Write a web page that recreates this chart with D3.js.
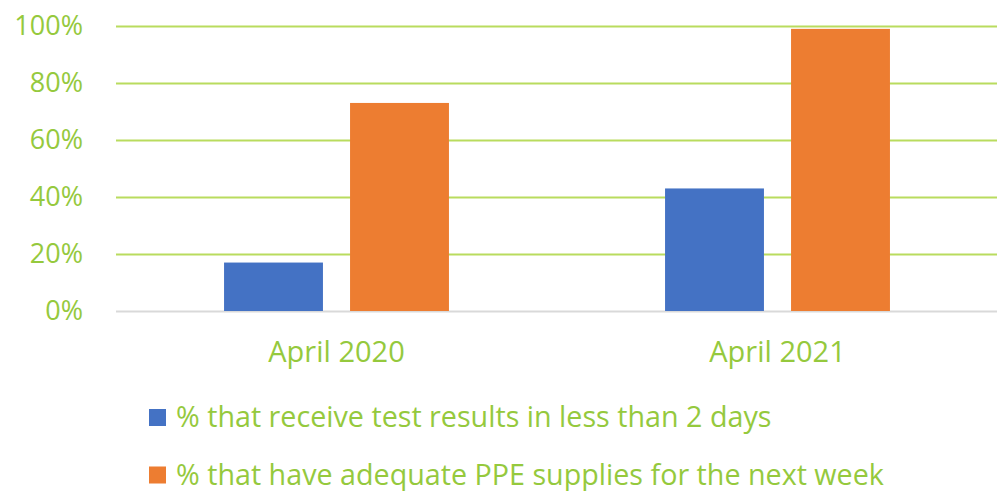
<!DOCTYPE html>
<html>
<head>
<meta charset="utf-8">
<script src="https://cdn.jsdelivr.net/npm/d3@7"></script>
<style>
  body { margin: 0; background: #fff; }
  svg text { font-family: "Open Sans", sans-serif; }
</style>
</head>
<body>
<div id="mainDiv"></div>
<script>
'use strict';

var categories = ['April 2020', 'April 2021'];
var seriesNames = ['% that receive test results in less than 2 days',
                   '% that have adequate PPE supplies for the next week'];
var testResults = [17, 43];
var ppeSupplies = [73, 99];
var yTicks = [0, 20, 40, 60, 80, 100];

var chart = {};
chart.w = 997;
chart.h = 491;
chart.plot = {left: 116, right: 998, top: 26, bottom: 311};
chart.colors = ['#4472c4', '#ed7d31'];
chart.green = '#95c93d';
chart.grid = '#b9dc5e';

chart.run = function()
{
    var svg = d3.select('#mainDiv').append('svg')
        .attr('width', chart.w)
        .attr('height', chart.h);

    var y = d3.scaleLinear()
        .domain([0, 100])
        .range([chart.plot.bottom, chart.plot.top]);

    var x0 = d3.scaleBand()
        .domain(categories)
        .range([chart.plot.left, chart.plot.right]);

    var bw = x0.bandwidth();
    var x1 = d3.scaleBand()
        .domain([0, 1])
        .range([bw * 0.245, bw * 0.755])
        .paddingInner(0.215);

    // gridlines + y labels
    var yAxis = d3.axisLeft(y)
        .tickValues(yTicks)
        .tickSize(-(chart.plot.right - chart.plot.left))
        .tickPadding(33)
        .tickFormat(function(d){ return d + '%'; });

    var gy = svg.append('g')
        .attr('transform', 'translate(' + chart.plot.left + ',0)')
        .call(yAxis);
    gy.select('.domain').remove();
    gy.selectAll('.tick line')
        .attr('stroke', function(d){ return d === 0 ? '#d9d9d9' : chart.grid; })
        .attr('stroke-width', 2);
    gy.selectAll('.tick text')
        .attr('fill', chart.green)
        .style('font-size', '27px');

    // bars
    var rows = categories.map(function(c, i){
        return {cat: c, vals: [testResults[i], ppeSupplies[i]]};
    });

    var groups = svg.append('g').selectAll('g')
        .data(rows)
        .enter()
        .append('g')
        .attr('transform', function(d){ return 'translate(' + x0(d.cat) + ',0)'; });

    groups.selectAll('rect')
        .data(function(d){ return d.vals; })
        .enter()
        .append('rect')
        .attr('x', function(d, i){ return x1(i); })
        .attr('width', x1.bandwidth())
        .attr('y', function(d){ return y(d); })
        .attr('height', function(d){ return y(0) - y(d); })
        .attr('fill', function(d, i){ return chart.colors[i]; });

    // x labels
    var xAxis = d3.axisBottom(x0).tickSize(0).tickPadding(30);
    var gx = svg.append('g')
        .attr('transform', 'translate(0,' + chart.plot.bottom + ')')
        .call(xAxis);
    gx.select('.domain').remove();
    gx.selectAll('.tick text')
        .attr('fill', chart.green)
        .style('font-size', '29px');

    // legend
    var legend = svg.append('g').selectAll('g')
        .data(seriesNames)
        .enter()
        .append('g')
        .attr('transform', function(d, i){ return 'translate(149,' + (409 + i * 57.5) + ')'; });

    legend.append('rect')
        .attr('width', 17)
        .attr('height', 17)
        .attr('fill', function(d, i){ return chart.colors[i]; });

    legend.append('text')
        .attr('x', 27)
        .attr('y', 18)
        .attr('fill', chart.green)
        .style('font-size', '28.7px')
        .text(function(d){ return d; });
};

window.onload = chart.run;
</script>
</body>
</html>
